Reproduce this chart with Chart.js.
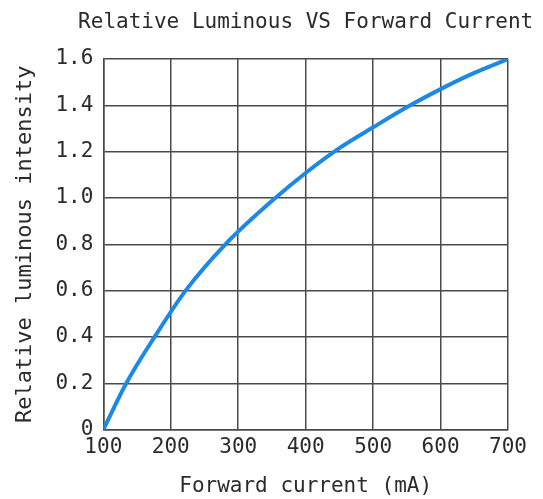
<!DOCTYPE html>
<html>
<head>
<meta charset="utf-8">
<script src="https://cdn.jsdelivr.net/npm/chart.js@4.4.1/dist/chart.umd.min.js"></script>
<style>
  html, body { margin: 0; padding: 0; background: #fff; }
  #wrap { width: 543px; height: 499px; }
</style>
</head>
<body>
<div id="wrap"><canvas id="lumChart" width="543" height="499"></canvas></div>
<script>
// values
var chartTitle = 'Relative Luminous VS Forward Current';
var currentMa = [100, 134, 176, 222, 281, 355, 400, 450, 500, 555, 600, 650, 700];
var luminous  = [0, 0.2, 0.4, 0.6, 0.8, 1.0, 1.108, 1.215, 1.305, 1.4, 1.47, 1.54, 1.6];
var xTicks = [100, 200, 300, 400, 500, 600, 700];
var yTicks = [0, 0.2, 0.4, 0.6, 0.8, 1.0, 1.2, 1.4, 1.6];

var fontFam = '"DejaVu Sans Mono", monospace';
var textCol = '#2b2b2b';
var gridCol = '#4a4a4a';

var points = currentMa.map(function (x, i) {
    return { x: x, y: luminous[i] };
});

// title centred over the plot area, not the canvas
var plotTitle = {
    id: 'plotTitle',
    afterDraw: function (chart) {
        var ctx = chart.ctx;
        var area = chart.chartArea;
        ctx.save();
        ctx.font = '21px ' + fontFam;
        ctx.fillStyle = textCol;
        ctx.textAlign = 'center';
        ctx.textBaseline = 'middle';
        ctx.fillText(chartTitle, (area.left + area.right) / 2, 23);
        ctx.restore();
    }
};

var ctx = document.getElementById('lumChart').getContext('2d');
var lumChart = new Chart(ctx, {
    type: 'line',
    data: {
        datasets: [{
            data: points,
            borderColor: '#1e88e5',
            borderWidth: 4,
            pointRadius: 0,
            cubicInterpolationMode: 'monotone',
            fill: false
        }]
    },
    options: {
        responsive: false,
        animation: false,
        layout: { padding: { top: 59, right: 35, left: 12, bottom: 0 } },
        plugins: {
            legend: { display: false },
            tooltip: { enabled: false }
        },
        scales: {
            x: {
                type: 'linear',
                min: 100,
                max: 700,
                afterBuildTicks: function (axis) {
                    axis.ticks = xTicks.map(function (v) { return { value: v }; });
                },
                grid: { color: gridCol, lineWidth: 1.5, drawTicks: false },
                border: { color: gridCol, width: 1.5 },
                ticks: {
                    color: textCol,
                    font: { family: fontFam, size: 21 },
                    padding: 5,
                    maxRotation: 0
                },
                title: {
                    display: true,
                    text: 'Forward current (mA)',
                    color: textCol,
                    font: { family: fontFam, size: 21 },
                    padding: { top: 9, bottom: 0 }
                }
            },
            y: {
                min: 0,
                max: 1.6,
                afterBuildTicks: function (axis) {
                    axis.ticks = yTicks.map(function (v) { return { value: v }; });
                },
                grid: { color: gridCol, lineWidth: 1.5, drawTicks: false },
                border: { color: gridCol, width: 1.5 },
                ticks: {
                    color: textCol,
                    font: { family: fontFam, size: 21 },
                    padding: 10,
                    callback: function (value) {
                        return value === 0 ? '0' : value.toFixed(1);
                    }
                },
                title: {
                    display: true,
                    text: 'Relative luminous intensity',
                    color: textCol,
                    font: { family: fontFam, size: 22 },
                    padding: { top: 0, bottom: 7 }
                }
            }
        }
    },
    plugins: [plotTitle]
});
</script>
</body>
</html>
